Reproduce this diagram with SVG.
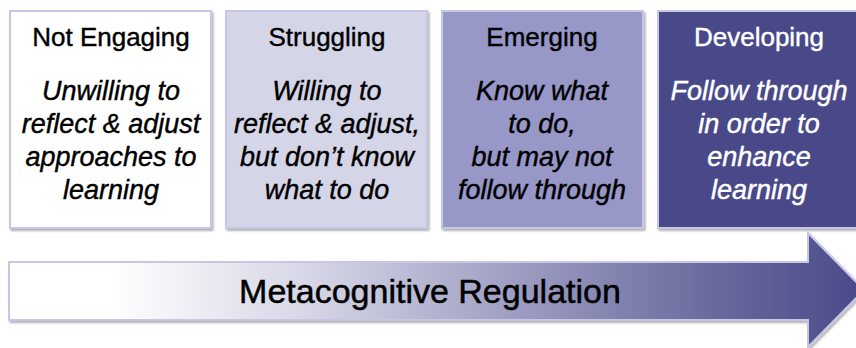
<svg xmlns="http://www.w3.org/2000/svg" width="856" height="348" viewBox="0 0 856 348">
  <defs>
    <linearGradient id="arrowGrad" x1="0" y1="0" x2="1" y2="0">
      <stop offset="0" stop-color="#ffffff"/>
      <stop offset="0.12" stop-color="#ffffff"/>
      <stop offset="0.35" stop-color="#d6d6e6"/>
      <stop offset="0.6" stop-color="#9c9cc2"/>
      <stop offset="0.82" stop-color="#6a6a9e"/>
      <stop offset="1" stop-color="#4a4a8a"/>
    </linearGradient>
    <filter id="shadow" x="-5%" y="-5%" width="110%" height="115%">
      <feDropShadow dx="1.5" dy="2" stdDeviation="1.2" flood-color="#000000" flood-opacity="0.3"/>
    </filter>
  </defs>
  <style>
    .box { stroke: #c6c6e6; stroke-width: 2; filter: url(#shadow); }
    .title { font-family: "Liberation Sans", Arial, sans-serif; font-size: 26px; text-anchor: middle; stroke-width: 0.4; }
    .desc { font-family: "Liberation Sans", Arial, sans-serif; font-size: 27px; font-style: italic; text-anchor: middle; stroke-width: 0.4; }
    .dark { fill: #000000; stroke: #000000; }
    .light { fill: #ffffff; stroke: #ffffff; }
    .label { font-family: "Liberation Sans", Arial, sans-serif; font-size: 34px; text-anchor: middle; fill: #000000; stroke: #000000; stroke-width: 0.5; }
  </style>
  <rect width="856" height="348" fill="#ffffff"/>

  <g id="not-engaging">
    <rect class="box" x="10" y="11" width="201" height="217" fill="#ffffff"/>
    <text class="title dark" x="111" y="46">Not Engaging</text>
    <text class="desc dark" x="111" y="100">Unwilling to</text>
    <text class="desc dark" x="111" y="133">reflect &amp; adjust</text>
    <text class="desc dark" x="111" y="166">approaches to</text>
    <text class="desc dark" x="111" y="199">learning</text>
  </g>

  <g id="struggling">
    <rect class="box" x="226" y="11" width="201" height="217" fill="#d5d5e8"/>
    <text class="title dark" x="327" y="46">Struggling</text>
    <text class="desc dark" x="327" y="100">Willing to</text>
    <text class="desc dark" x="327" y="133">reflect &amp; adjust,</text>
    <text class="desc dark" x="327" y="166">but don’t know</text>
    <text class="desc dark" x="327" y="199">what to do</text>
  </g>

  <g id="emerging">
    <rect class="box" x="442" y="11" width="201" height="217" fill="#9797c8"/>
    <text class="title dark" x="542" y="46">Emerging</text>
    <text class="desc dark" x="542" y="100">Know what</text>
    <text class="desc dark" x="542" y="133">to do,</text>
    <text class="desc dark" x="542" y="166">but may not</text>
    <text class="desc dark" x="542" y="199">follow through</text>
  </g>

  <g id="developing">
    <rect class="box" x="658" y="11" width="204" height="217" fill="#4a4a8a"/>
    <text class="title light" x="759" y="46">Developing</text>
    <text class="desc light" x="759" y="100">Follow through</text>
    <text class="desc light" x="759" y="133">in order to</text>
    <text class="desc light" x="759" y="166">enhance</text>
    <text class="desc light" x="759" y="199">learning</text>
  </g>

  <g id="connectors">
    <g id="metacognitive-regulation">
      <polygon points="9,262 808,262 808,233 864,290 808,347 808,320 9,320" fill="url(#arrowGrad)" stroke="#c6c6e6" stroke-width="2" filter="url(#shadow)"/>
      <text class="label" x="430" y="303">Metacognitive Regulation</text>
    </g>
  </g>
</svg>
